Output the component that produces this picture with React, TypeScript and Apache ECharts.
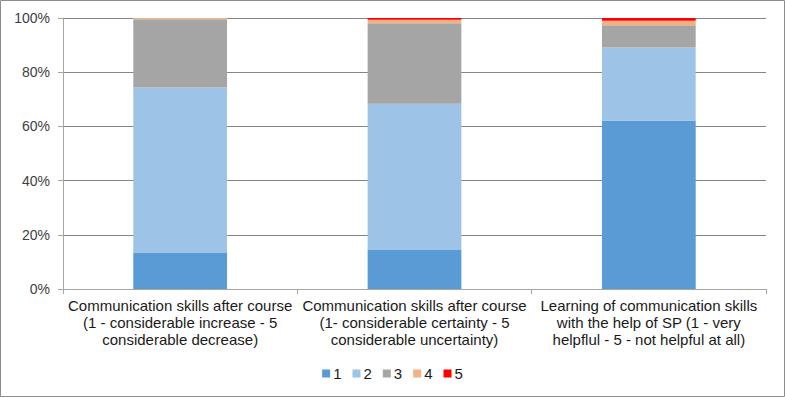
import React, { useEffect, useRef } from "react";
import * as echarts from "echarts";

const categories = [
  "Communication skills after course\n(1 - considerable increase - 5\nconsiderable decrease)",
  "Communication skills after course\n(1- considerable certainty - 5\nconsiderable uncertainty)",
  "Learning of communication skills\nwith the help of SP (1 - very\nhelpflul - 5 - not helpful at all)",
];
const seriesNames = ["1", "2", "3", "4", "5"];
const values1 = [13.3, 14.4, 62.2];
const values2 = [61.1, 54.0, 26.9];
const values3 = [25.1, 29.7, 8.2];
const values4 = [0.5, 1.3, 1.7];
const values5 = [0.0, 0.6, 1.0];
const yTicks = [0, 20, 40, 60, 80, 100];
const colors = ["#5B9BD5", "#9DC3E6", "#A5A5A5", "#F4B183", "#FF0000"];

export default function App() {
  const ref = useRef<HTMLDivElement>(null);
  useEffect(() => {
    if (!ref.current) return;
    const chart = echarts.init(ref.current, null, { renderer: "svg" });
    const all = [values1, values2, values3, values4, values5];
    const font = "'Liberation Sans', Arial, sans-serif";
    chart.setOption({
      animation: false,
      textStyle: { fontFamily: font },
      graphic: [
        {
          type: "rect",
          shape: { x: 0.5, y: 0.5, width: 784, height: 396 },
          style: { fill: "none", stroke: "#8c8c8c", lineWidth: 1 },
          silent: true,
        },
      ],
      grid: { left: 63, right: 19, top: 18, bottom: 108 },
      legend: {
        bottom: 11,
        left: "center",
        itemWidth: 8,
        itemHeight: 8,
        itemGap: 11,
        icon: "rect",
        textStyle: { fontSize: 15, color: "#1a1a1a", fontFamily: font, padding: [0, 0, 0, -2] },
        data: seriesNames,
      },
      xAxis: {
        type: "category",
        data: categories,
        axisLine: { lineStyle: { color: "#a6a6a6" } },
        axisTick: { show: true, length: 5, lineStyle: { color: "#a6a6a6" } },
        axisLabel: {
          interval: 0,
          color: "#1a1a1a",
          fontSize: 15,
          lineHeight: 17,
          margin: 8,
          fontFamily: font,
        },
      },
      yAxis: {
        type: "value",
        min: 0,
        max: 100,
        interval: 20,
        axisLine: { show: true, lineStyle: { color: "#a6a6a6" } },
        axisTick: { show: true, length: 5, lineStyle: { color: "#a6a6a6" } },
        splitLine: { lineStyle: { color: "#868686" } },
        axisLabel: {
          color: "#404040",
          fontSize: 14,
          margin: 13,
          fontFamily: font,
          formatter: (v: number) => (yTicks.includes(v) ? v + "%" : ""),
        },
      },
      series: seriesNames.map((n, i) => ({
        name: n,
        type: "bar",
        stack: "total",
        barWidth: "40%",
        data: all[i],
        itemStyle: { color: colors[i] },
      })),
    });
    return () => chart.dispose();
  }, []);
  return (
    <div
      ref={ref}
      style={{ position: "fixed", left: 0, top: 0, width: 785, height: 397, background: "#fff" }}
    />
  );
}
